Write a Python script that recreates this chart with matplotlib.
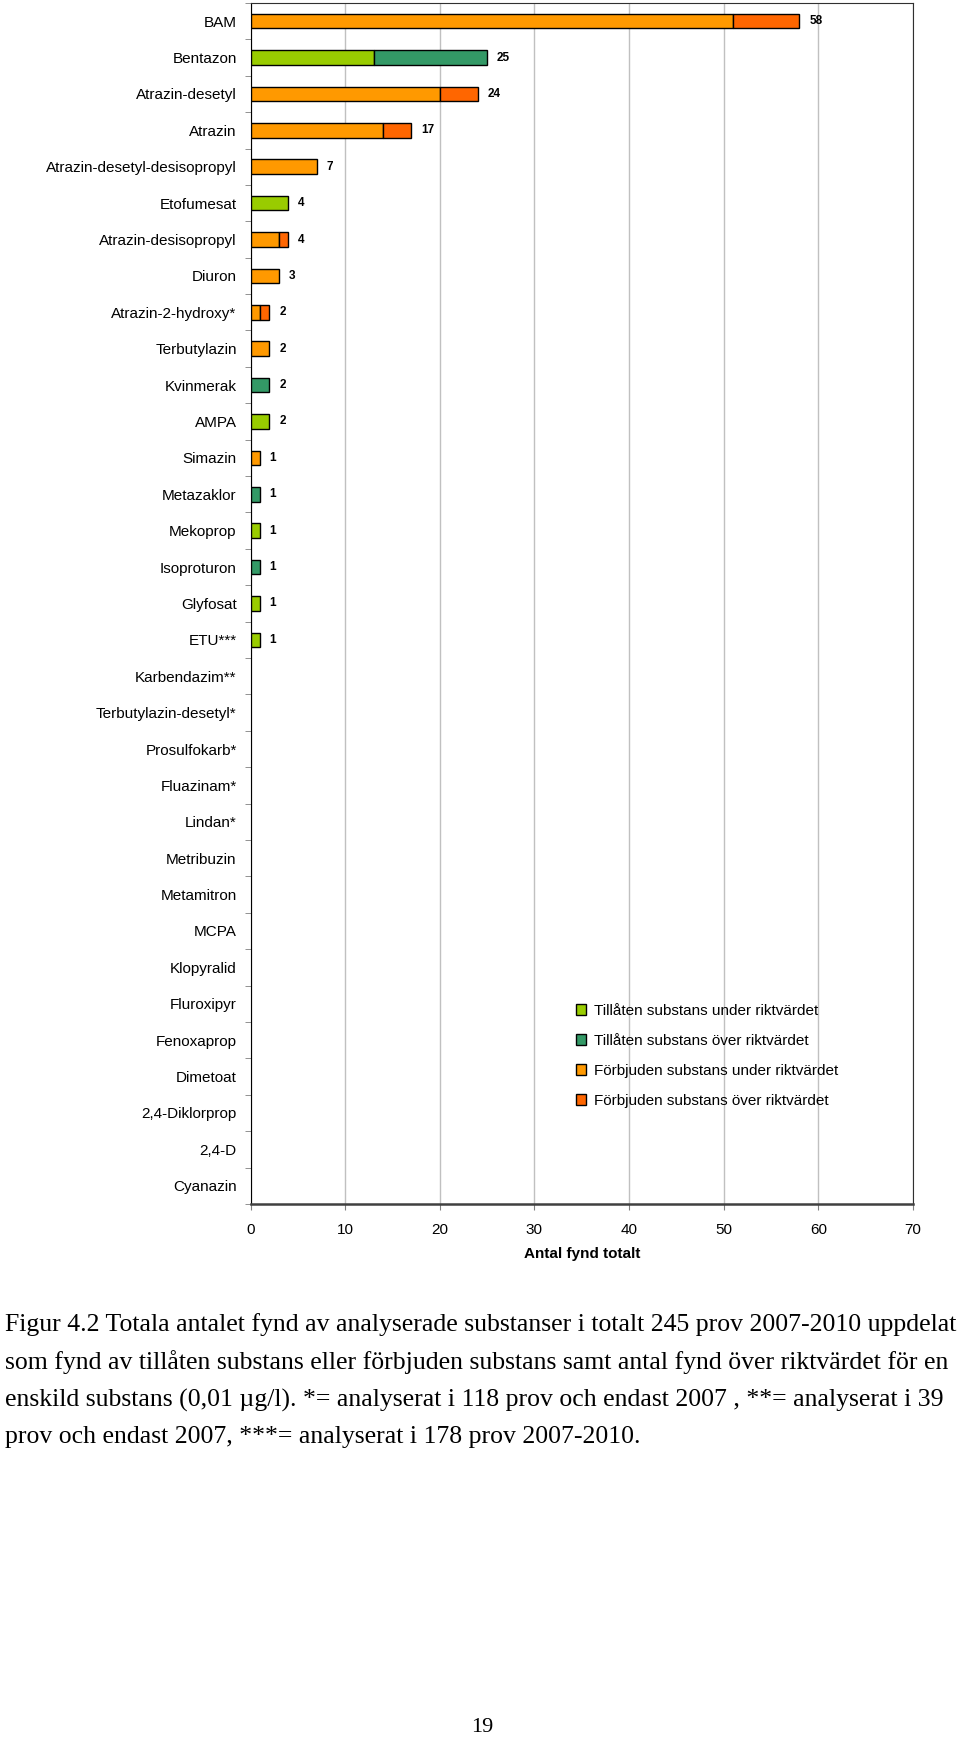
import numpy as np
import matplotlib.pyplot as plt

plt.rcParams['font.family'] = ['Liberation Sans', 'DejaVu Sans']

# Data
substances = ['BAM', 'Bentazon', 'Atrazin-desetyl', 'Atrazin',
              'Atrazin-desetyl-desisopropyl', 'Etofumesat', 'Atrazin-desisopropyl',
              'Diuron', 'Atrazin-2-hydroxy*', 'Terbutylazin', 'Kvinmerak', 'AMPA',
              'Simazin', 'Metazaklor', 'Mekoprop', 'Isoproturon', 'Glyfosat', 'ETU***',
              'Karbendazim**', 'Terbutylazin-desetyl*', 'Prosulfokarb*', 'Fluazinam*',
              'Lindan*', 'Metribuzin', 'Metamitron', 'MCPA', 'Klopyralid', 'Fluroxipyr',
              'Fenoxaprop', 'Dimetoat', '2,4-Diklorprop', '2,4-D', 'Cyanazin']
allowed_under = [0, 13, 0, 0, 0, 4, 0, 0, 0, 0, 0, 2, 0, 0, 1, 0, 1, 1,
                 0, 0, 0, 0, 0, 0, 0, 0, 0, 0, 0, 0, 0, 0, 0]
allowed_over = [0, 12, 0, 0, 0, 0, 0, 0, 0, 0, 2, 0, 0, 1, 0, 1, 0, 0,
                0, 0, 0, 0, 0, 0, 0, 0, 0, 0, 0, 0, 0, 0, 0]
banned_under = [51, 0, 20, 14, 7, 0, 3, 3, 1, 2, 0, 0, 1, 0, 0, 0, 0, 0,
                0, 0, 0, 0, 0, 0, 0, 0, 0, 0, 0, 0, 0, 0, 0]
banned_over = [7, 0, 4, 3, 0, 0, 1, 0, 1, 0, 0, 0, 0, 0, 0, 0, 0, 0,
               0, 0, 0, 0, 0, 0, 0, 0, 0, 0, 0, 0, 0, 0, 0]
series_names = ['Tillåten substans under riktvärdet', 'Tillåten substans över riktvärdet',
                'Förbjuden substans under riktvärdet', 'Förbjuden substans över riktvärdet']
colors = ['#99CC00', '#339966', '#FF9900', '#FF6600']

caption = ['Figur 4.2 Totala antalet fynd av analyserade substanser i totalt 245 prov 2007-2010 uppdelat',
           'som fynd av tillåten substans eller förbjuden substans samt antal fynd över riktvärdet för en',
           'enskild substans (0,01 µg/l). *= analyserat i 118 prov och endast 2007 , **= analyserat i 39',
           'prov och endast 2007, ***= analyserat i 178 prov 2007-2010.']

fig = plt.figure(figsize=(9.6, 17.39), dpi=100)
ax = fig.add_axes([0.261, 0.3077, 0.69, 0.6906])

y = np.arange(len(substances))
left = np.zeros(len(substances))
for vals, name, col in zip([allowed_under, allowed_over, banned_under, banned_over],
                           series_names, colors):
    vals = np.array(vals, dtype=float)
    nz = vals > 0
    ax.barh(y[nz], vals[nz], left=left[nz], height=0.4, color=col, edgecolor='black',
            linewidth=1, label=name, zorder=3)
    left += vals

for yi, tot in zip(y, left):
    if tot > 0:
        ax.annotate(f'{int(tot)}', (tot, yi), xytext=(7, 0), textcoords='offset points',
                    va='center', ha='left', fontsize=8.5, fontweight='bold')

ax.set_xlim(0, 70)
ax.set_ylim(len(substances) - 0.5, -0.5)
ax.set_xticks(np.arange(0, 71, 10))
ax.tick_params(axis='x', labelsize=11, length=4, color='#808080', pad=10)
ax.set_yticks(y)
ax.set_yticklabels(substances, fontsize=11)
ax.set_yticks(np.arange(len(substances) + 1) - 0.5, minor=True)
ax.tick_params(axis='y', which='major', length=0, pad=10)
ax.tick_params(axis='y', which='minor', length=4, color='#808080')
ax.grid(axis='x', color='#C0C0C0', linewidth=1, zorder=0)
ax.set_axisbelow(True)
for s in ['top', 'right']:
    ax.spines[s].set_color('#303030')
ax.spines['left'].set_color('black')
ax.spines['bottom'].set_color('#404040')
ax.spines['bottom'].set_linewidth(1.8)

ax.set_xlabel('Antal fynd totalt', fontsize=11, fontweight='bold', labelpad=7)

ax.legend(loc='upper left', bbox_to_anchor=(0.47, 0.178), frameon=False, fontsize=11,
          handlelength=0.7, handleheight=0.7, handletextpad=0.5, labelspacing=1.05)

for i, line in enumerate(caption):
    fig.text(0.005, 1 - (1325 + i * 37.5) / 1739, line, family='Liberation Serif',
             fontsize=18.5, va='center', ha='left')
fig.text(482 / 960, 1 - 1727 / 1739, '19', family='Liberation Serif', fontsize=16,
         ha='center', va='center')

fig.savefig('out.png', dpi=100)
